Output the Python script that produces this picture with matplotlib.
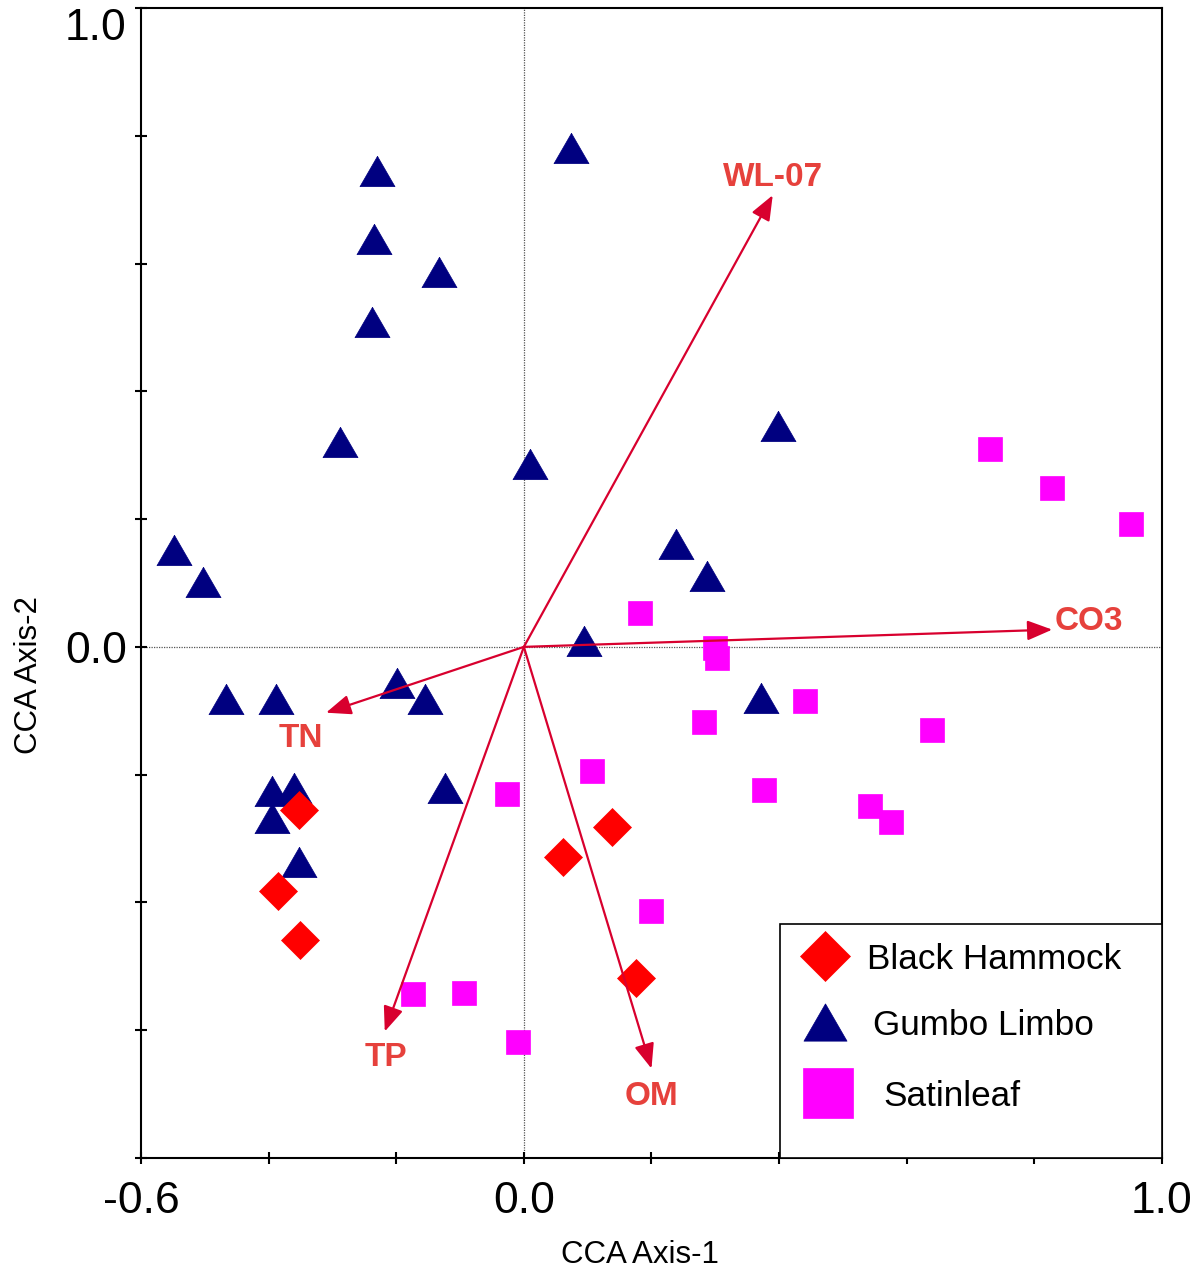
import matplotlib
matplotlib.use("Agg")
import matplotlib.pyplot as plt
from matplotlib.patches import Rectangle

plt.rcParams['font.family'] = ['Liberation Sans', 'DejaVu Sans']

# site scores on CCA axes 1 and 2
black_hammock_x = [-0.352, -0.385, -0.351, 0.061, 0.138, 0.175]
black_hammock_y = [-0.255, -0.382, -0.459, -0.329, -0.282, -0.519]

gumbo_limbo_x = [0.074, -0.230, -0.235, -0.133, -0.238, -0.288, 0.009, 0.399,
                 -0.548, -0.503, 0.238, 0.287, 0.094, -0.467, -0.388, -0.199,
                 -0.155, -0.395, -0.360, -0.395, -0.124, -0.352, 0.371]
gumbo_limbo_y = [0.781, 0.745, 0.638, 0.586, 0.508, 0.320, 0.287, 0.346,
                 0.152, 0.102, 0.161, 0.111, 0.009, -0.082, -0.082, -0.056,
                 -0.082, -0.226, -0.221, -0.268, -0.221, -0.337, -0.080]

satinleaf_x = [0.182, 0.299, 0.302, 0.440, 0.282, 0.639, 0.106, -0.027, 0.377,
               0.543, 0.575, 0.200, -0.174, -0.094, -0.009, 0.730, 0.827, 0.952]
satinleaf_y = [0.053, -0.002, -0.017, -0.085, -0.118, -0.130, -0.194, -0.230, -0.224,
               -0.249, -0.274, -0.414, -0.544, -0.542, -0.618, 0.310, 0.249, 0.193]

# environmental vectors
env_names = ['WL-07', 'CO3', 'TN', 'TP', 'OM']
env_x = [0.390, 0.828, -0.310, -0.218, 0.200]
env_y = [0.707, 0.027, -0.103, -0.602, -0.660]

x_ticks = [-0.6, -0.4, -0.2, 0.0, 0.2, 0.4, 0.6, 0.8, 1.0]
x_ticklabels = ['-0.6', '', '', '0.0', '', '', '', '', '1.0']
y_ticks = [-0.8, -0.6, -0.4, -0.2, 0.0, 0.2, 0.4, 0.6, 0.8, 1.0]
y_ticklabels = ['', '', '', '', '0.0', '', '', '', '', '1.0']

legend_labels = ['Black Hammock', 'Gumbo Limbo', 'Satinleaf']

navy = '#000080'
red = '#ff0000'
magenta = '#ff00ff'
arrow_col = '#d8002e'
label_col = '#e6413c'

# equilateral triangle, centred on its bounding box
tri = [(0, 0.866), (-1, -0.866), (1, -0.866), (0, 0.866)]

fig = plt.figure(figsize=(12.02, 12.7), dpi=100)
ax = fig.add_axes([0.1173, 0.0882, 0.8494, 0.9055])

ax.axhline(0, color='#555555', lw=0.9, ls=(0, (1, 1)), zorder=0)
ax.axvline(0, color='#555555', lw=0.9, ls=(0, (1, 1)), zorder=0)

ax.plot(gumbo_limbo_x, gumbo_limbo_y, ls='none', marker=tri, ms=25.2,
        mfc=navy, mec=navy, mew=0.5, zorder=2)
ax.plot(satinleaf_x, satinleaf_y, ls='none', marker='s', ms=16.8,
        mfc=magenta, mec=magenta, mew=0.5, zorder=3)
ax.plot(black_hammock_x, black_hammock_y, ls='none', marker='D', ms=19.6,
        mfc=red, mec=red, mew=0.5, zorder=4)

# arrows for environmental variables, labels offset in pixels from the tip
label_offsets = {'WL-07': (0, 21), 'CO3': (37, 12), 'TN': (-25, -22),
                 'TP': (1, -23), 'OM': (0, -24)}
for name, x, y in zip(env_names, env_x, env_y):
    ax.annotate('', xy=(x, y), xytext=(0, 0),
                arrowprops=dict(arrowstyle='-|>,head_length=0.8,head_width=0.32',
                                color=arrow_col, lw=1.6, shrinkA=0, shrinkB=0,
                                mutation_scale=19),
                zorder=5)
    ax.annotate(name, xy=(x, y), xytext=label_offsets[name], textcoords='offset pixels',
                ha='center', va='center_baseline', fontsize=24, fontweight='bold',
                color=label_col, zorder=5)

ax.set_xlim(-0.6, 1.0)
ax.set_ylim(-0.8, 1.0)
ax.set_xticks(x_ticks)
ax.set_xticklabels(x_ticklabels)
ax.set_yticks(y_ticks)
ax.set_yticklabels(y_ticklabels)
ax.tick_params(axis='both', direction='inout', length=8.6, width=1.5, labelsize=32)
ax.tick_params(axis='x', pad=12)
ax.tick_params(axis='y', pad=6)
ax.yaxis.get_major_ticks()[-1].label1.set_verticalalignment('top')
for s in ax.spines.values():
    s.set_linewidth(1.5)

ax.set_xlabel('CCA Axis-1', fontsize=22.5)
ax.set_ylabel('CCA Axis-2', fontsize=22.5)
ax.xaxis.set_label_coords(0.489, -0.071)
ax.yaxis.set_label_coords(-0.095, 0.42)

# legend box in the lower right corner
ax.add_patch(Rectangle((0.626, 0.0), 0.374, 0.2035, transform=ax.transAxes,
                       facecolor='white', edgecolor='black', lw=1.2, zorder=6))
leg_markers = ['D', tri, 's']
leg_sizes = [25.5, 31, 36]
leg_colors = [red, navy, magenta]
leg_mx = [0.670, 0.670, 0.673]
leg_tx = [0.711, 0.717, 0.727]
leg_y = [0.1757, 0.1183, 0.0565]
for lab, m, ms, c, mx, tx, y in zip(legend_labels, leg_markers, leg_sizes,
                                    leg_colors, leg_mx, leg_tx, leg_y):
    ax.plot(mx, y, marker=m, ms=ms, mfc=c, mec=c, mew=0.5, ls='none',
            transform=ax.transAxes, clip_on=False, zorder=7)
    ax.text(tx, y, lab, transform=ax.transAxes, fontsize=25.3,
            ha='left', va='center_baseline', zorder=7)

fig.savefig('out.png', dpi=100)
